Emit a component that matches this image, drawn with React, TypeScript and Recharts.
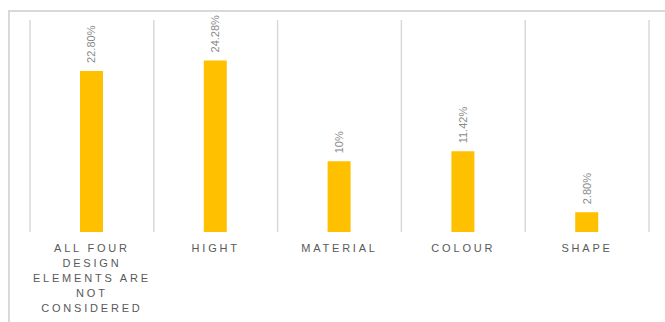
import { BarChart, Bar, XAxis, YAxis, CartesianGrid, LabelList } from "recharts";

const categories = ["ALL FOUR DESIGN ELEMENTS ARE NOT CONSIDERED", "HIGHT", "MATERIAL", "COLOUR", "SHAPE"];
const shares = [22.8, 24.28, 10, 11.42, 2.8];
const shareLabels = ["22.80%", "24.28%", "10%", "11.42%", "2.80%"];
const valueTicks = [0, 30];
const gridTicks = [0, 1, 2, 3, 4, 5];

const data = categories.map((name, i) => ({ name, share: shares[i], label: shareLabels[i], slot: i + 0.5 }));

// break a label into lines of at most maxChars characters
function wrap(text: string, maxChars = 12) {
  const lines: string[] = [];
  let cur = "";
  text.split(" ").forEach((w) => {
    const next = cur ? `${cur} ${w}` : w;
    if (next.length > maxChars && cur) {
      lines.push(cur);
      cur = w;
    } else cur = next;
  });
  if (cur) lines.push(cur);
  return lines;
}

const CategoryTick = ({ x, y, payload }: any) => {
  const lines = wrap(payload.value);
  return (
    <text
      x={x}
      y={y}
      textAnchor="middle"
      fill="#595959"
      fontSize={11}
      fontFamily="Liberation Sans, Arial, sans-serif"
      letterSpacing={2.8}
    >
      {lines.map((l, i) => (
        <tspan key={i} x={x} y={y + 20 + i * 15}>
          {l}
        </tspan>
      ))}
    </text>
  );
};

const RotatedLabel = ({ x, y, width, value }: any) => {
  const cx = x + width / 2 + 4;
  const cy = y - 8;
  return (
    <text
      x={cx}
      y={cy}
      transform={`rotate(-90 ${cx} ${cy})`}
      textAnchor="start"
      fill="#8a8a8a"
      fontSize={11}
      fontFamily="Liberation Sans, Arial, sans-serif"
    >
      {value}
    </text>
  );
};

export default function App() {
  return (
    <div style={{ position: "absolute", left: 0, top: 0, width: 665, height: 322, background: "#fff", overflow: "hidden" }}>
      <div
        style={{
          position: "absolute",
          left: 8,
          top: 10,
          width: 720,
          height: 400,
          border: "2px solid #d9d9d9",
        }}
      />
      <div style={{ position: "absolute", left: 0, top: 0 }}>
        <BarChart width={665} height={322} data={data} margin={{ top: 20, right: 16, left: 30, bottom: 0 }}>
          <XAxis xAxisId="grid" type="number" dataKey="slot" domain={[0, 5]} ticks={gridTicks} hide />
          <CartesianGrid xAxisId="grid" horizontal={false} stroke="#d9d9d9" strokeWidth={1.5} />
          <XAxis
            dataKey="name"
            axisLine={false}
            tickLine={false}
            tickSize={0}
            tickMargin={0}
            height={90}
            interval={0}
            tick={<CategoryTick />}
          />
          <YAxis domain={[0, 30]} ticks={valueTicks} hide />
          <Bar dataKey="share" fill="#ffc000" barSize={23} isAnimationActive={false}>
            <LabelList dataKey="label" content={<RotatedLabel />} />
          </Bar>
        </BarChart>
      </div>
    </div>
  );
}
